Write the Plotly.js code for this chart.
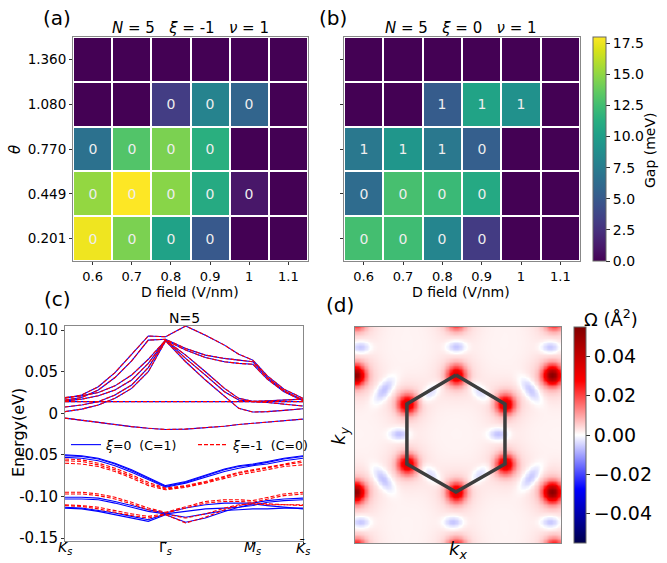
<!DOCTYPE html>
<html>
<head>
<meta charset="utf-8">
<script src="https://cdn.plot.ly/plotly-3.0.1.min.js"></script>
<style>html,body{margin:0;padding:0;background:#fff}#chart{width:667px;height:563px}</style>
</head>
<body>
<div id="chart"></div>
<script>
// ---------- (a), (b): gap maps ----------
const dField = [0.6, 0.7, 0.8, 0.9, 1.0, 1.1];
const dFieldLabels = ["0.6", "0.7", "0.8", "0.9", "1", "1.1"];
const thetaLabels = ["0.201", "0.449", "0.770", "1.080", "1.360"];
const thetaIdx = [0, 1, 2, 3, 4];
// rows bottom -> top (theta 0.201 ... 1.360), columns D = 0.6 ... 1.1  (meV)
const gapA = [
  [17.6, 14.4, 10.3, 5.0, 0, 0],
  [15.1, 18.0, 14.8, 11.0, 1.1, 0],
  [6.7, 13.1, 14.4, 11.4, 0, 0],
  [0, 0, 3.2, 8.0, 5.8, 0],
  [0, 0, 0, 0, 0, 0]
];
const chernA = [
  ["0", "0", "0", "0", "", ""],
  ["0", "0", "0", "0", "0", ""],
  ["0", "0", "0", "0", "", ""],
  ["", "", "0", "0", "0", ""],
  ["", "", "", "", "", ""]
];
const gapB = [
  [12.6, 12.4, 8.1, 3.1, 0, 0],
  [6.3, 12.7, 12.2, 10.9, 0, 0],
  [7.2, 9.4, 7.2, 5.4, 0, 0],
  [0, 0, 5.2, 10.4, 9.0, 0],
  [0, 0, 0, 0, 0, 0]
];
const chernB = [
  ["0", "0", "0", "0", "", ""],
  ["0", "0", "0", "0", "", ""],
  ["1", "1", "1", "0", "", ""],
  ["", "", "1", "1", "1", ""],
  ["", "", "", "", "", ""]
];
const gapTicks = [0, 2.5, 5, 7.5, 10, 12.5, 15, 17.5];

// ---------- (c): band structure ----------
const kPath = [0, 0.07, 0.14, 0.21, 0.28, 0.35, 0.4226, 0.507, 0.59, 0.67, 0.73, 0.789, 0.85, 0.92, 1.0];
const kTickVals = [0, 0.4226, 0.789, 1.0];
const kTickText = ["<i>K</i><sub><i>s</i></sub>", "Γ<sub><i>s</i></sub>", "<i>M</i><sub><i>s</i></sub>", "<i>K\u0304</i><sub><i>s</i></sub>"];
const eTickVals = [0.10, 0.05, 0, -0.05, -0.10, -0.15];
const eTickText = ["0.10", "0.05", "0", "-0.05", "-0.10", "-0.15"];
// conduction bands (both valleys overlap)
const cb1 = [-0.0058, -0.0085, -0.011, -0.0135, -0.016, -0.018, -0.0195, -0.019, -0.0175, -0.0155, -0.0135, -0.012, -0.010, -0.0085, -0.007];
const cb2 = [0.0140, 0.0140, 0.0140, 0.0140, 0.0140, 0.0140, 0.0140, 0.0140, 0.0140, 0.0138, 0.0137, 0.0136, 0.0137, 0.0138, 0.0140];
const cb3 = [0.002, 0.005, 0.010, 0.018, 0.030, 0.050, 0.087, 0.062, 0.040, 0.020, 0.006, 0.0015, 0.002, 0.0035, 0.0055];
const cb4 = [0.0075, 0.010, 0.014, 0.022, 0.034, 0.055, 0.088, 0.066, 0.046, 0.026, 0.016, 0.014, 0.013, 0.011, 0.0087];
const cb5 = [0.015, 0.017, 0.021, 0.028, 0.040, 0.060, 0.088, 0.076, 0.067, 0.062, 0.060, 0.059, 0.041, 0.026, 0.015];
const cb6 = [0.016, 0.019, 0.028, 0.043, 0.063, 0.088, 0.089, 0.078, 0.070, 0.066, 0.064, 0.062, 0.043, 0.027, 0.016];
const cb7 = [0.018, 0.022, 0.032, 0.049, 0.071, 0.093, 0.092, 0.105, 0.094, 0.082, 0.071, 0.064, 0.045, 0.029, 0.018];
const cb8 = [0.019, 0.021, 0.025, 0.033, 0.046, 0.065, 0.088, 0.070, 0.050, 0.030, 0.018, 0.0145, 0.015, 0.016, 0.017];
// valence bands, xi = 0
const vb1 = [-0.050, -0.051, -0.054, -0.060, -0.068, -0.077, -0.087, -0.082, -0.074, -0.067, -0.063, -0.061, -0.058, -0.054, -0.051];
const vb2 = [-0.051, -0.052, -0.055, -0.061, -0.069, -0.078, -0.088, -0.083, -0.075, -0.068, -0.064, -0.062, -0.059, -0.055, -0.052];
const vb3 = [-0.053, -0.054, -0.057, -0.063, -0.071, -0.080, -0.089, -0.084, -0.077, -0.070, -0.066, -0.063, -0.061, -0.057, -0.054];
const vb4 = [-0.101, -0.101, -0.102, -0.106, -0.111, -0.116, -0.120, -0.114, -0.110, -0.108, -0.108, -0.108, -0.105, -0.103, -0.102];
const vb5 = [-0.103, -0.103, -0.104, -0.108, -0.113, -0.118, -0.121, -0.118, -0.115, -0.114, -0.113, -0.111, -0.107, -0.105, -0.104];
const vb6 = [-0.113, -0.114, -0.117, -0.120, -0.124, -0.128, -0.121, -0.125, -0.121, -0.117, -0.116, -0.115, -0.115, -0.114, -0.114];
const vb7 = [-0.114, -0.115, -0.118, -0.122, -0.126, -0.130, -0.122, -0.131, -0.126, -0.118, -0.113, -0.109, -0.111, -0.113, -0.115];
// valence bands, xi = -1
const vr1 = [-0.055, -0.056, -0.060, -0.066, -0.074, -0.083, -0.090, -0.087, -0.082, -0.076, -0.071, -0.068, -0.065, -0.061, -0.057];
const vr2 = [-0.057, -0.058, -0.062, -0.068, -0.076, -0.085, -0.091, -0.088, -0.083, -0.077, -0.072, -0.069, -0.066, -0.062, -0.059];
const vr3 = [-0.060, -0.061, -0.064, -0.070, -0.078, -0.087, -0.092, -0.089, -0.084, -0.078, -0.074, -0.071, -0.068, -0.064, -0.062];
const vr4 = [-0.095, -0.095, -0.097, -0.101, -0.107, -0.114, -0.119, -0.112, -0.106, -0.104, -0.104, -0.105, -0.101, -0.097, -0.095];
const vr5 = [-0.097, -0.097, -0.099, -0.103, -0.109, -0.116, -0.120, -0.114, -0.108, -0.106, -0.106, -0.107, -0.103, -0.099, -0.097];
const vr6 = [-0.110, -0.111, -0.113, -0.117, -0.121, -0.124, -0.121, -0.126, -0.121, -0.114, -0.110, -0.109, -0.110, -0.110, -0.110];
const vr7 = [-0.111, -0.112, -0.115, -0.119, -0.123, -0.126, -0.122, -0.132, -0.125, -0.116, -0.111, -0.108, -0.109, -0.110, -0.111];
const condBands = [cb1, cb2, cb3, cb4, cb5, cb6, cb7, cb8];
const bandsXi0 = condBands.concat([vb1, vb2, vb3, vb4, vb5, vb6, vb7]);
const bandsXim1 = condBands.concat([vr1, vr2, vr3, vr4, vr5, vr6, vr7]);

// ---------- (d): Berry curvature map ----------
// hot spots (k-space units, hexagon centre = 0)
const redX = [0, 0, 0.476, 0.476, -0.476, -0.476, -0.98, 0.932, -0.98, 0.932, 0, 0, -0.97, 0.95, -0.97, 0.95];
const redY = [0.546, -0.537, 0.278, -0.278, 0.278, -0.278, 0.546, 0.546, -0.537, -0.537, 1.07, -1.07, 1.07, 1.07, -1.07, -1.07];
const redAmp = [0.032, 0.032, 0.032, 0.032, 0.032, 0.032, 0.046, 0.046, 0.046, 0.046, 0.033, 0.033, 0.035, 0.035, 0.035, 0.035];
const blueX = [-0.932, 0, 0.913, -0.70, 0.72, -0.553, 0.41, -0.71, 0.72, -0.932, -0.03, 0.913, -0.25, 0.23, -0.25, 0.23];
const blueY = [0.806, 0.81, 0.806, 0.41, 0.41, 0, 0, -0.417, -0.40, -0.815, -0.815, -0.815, 0.39, 0.39, -0.37, -0.37];
const blueAmp = [-0.009, -0.009, -0.009, -0.009, -0.009, -0.009, -0.009, -0.009, -0.009, -0.009, -0.009, -0.009, -0.006, -0.006, -0.006, -0.006];
const blueAngle = [0, 0, 0, 50, -50, 0, 0, -50, 50, 0, 0, 0, 40, -40, -40, 40];
const blueMajor = [0.065, 0.065, 0.065, 0.095, 0.095, 0.065, 0.065, 0.095, 0.095, 0.065, 0.065, 0.065, 0.075, 0.075, 0.075, 0.075];
const blueMinor = [0.04, 0.04, 0.04, 0.045, 0.045, 0.04, 0.04, 0.045, 0.045, 0.04, 0.04, 0.04, 0.04, 0.04, 0.04, 0.04];
const omegaBackground = 0.0012;
const hexX = [0, 0.476, 0.476, 0, -0.476, -0.476, 0];
const hexY = [0.546, 0.278, -0.278, -0.537, -0.278, 0.278, 0.546];
const omegaTicks = [-0.04, -0.02, 0, 0.02, 0.04];

// grid table for the heatmap, built from the spot lists above
const gx = [], gy = [];
for (let i = 0; i <= 160; i++) gx.push(-0.98 + i * 0.0125);
for (let j = 0; j <= 160; j++) gy.push(-1.01 + j * 0.0125);
const sCore = 0.062, sHalo = 0.15;
const omegaZ = gy.map(y => gx.map(x => {
  let v = omegaBackground;
  for (let n = 0; n < redX.length; n++) {
    const r2 = (x - redX[n]) ** 2 + (y - redY[n]) ** 2;
    v += redAmp[n] * Math.exp(-r2 / (2 * sCore * sCore)) + 0.12 * redAmp[n] * Math.exp(-r2 / (2 * sHalo * sHalo));
  }
  for (let n = 0; n < blueX.length; n++) {
    const a = blueAngle[n] * Math.PI / 180;
    const dx = x - blueX[n], dy = y - blueY[n];
    const u = dx * Math.cos(a) + dy * Math.sin(a);
    const w = -dx * Math.sin(a) + dy * Math.cos(a);
    v += blueAmp[n] * Math.exp(-(u * u) / (2 * blueMajor[n] ** 2) - (w * w) / (2 * blueMinor[n] ** 2));
  }
  return v;
}));

const seismic = [[0, 'rgb(0,0,77)'], [0.25, 'rgb(0,0,255)'], [0.5, 'rgb(255,255,255)'], [0.75, 'rgb(255,0,0)'], [1, 'rgb(128,0,0)']];

const W = 667, H = 563;
const px = v => v / W;
const py = v => 1 - v / H;
const FONT = 'DejaVu Sans';

const traces = [];
traces.push({
  type: 'heatmap', x: dField, y: thetaIdx, z: gapA, text: chernA, texttemplate: '%{text}',
  textfont: {family: FONT, size: 14, color: '#eeeeee'},
  colorscale: 'Viridis', zmin: 0, zmax: 18, showscale: false, xgap: 2, ygap: 2,
  xaxis: 'x', yaxis: 'y', hoverinfo: 'skip'
});
traces.push({
  type: 'heatmap', x: dField, y: thetaIdx, z: gapB, text: chernB, texttemplate: '%{text}',
  textfont: {family: FONT, size: 14, color: '#eeeeee'},
  colorscale: 'Viridis', zmin: 0, zmax: 18, xgap: 2, ygap: 2,
  xaxis: 'x2', yaxis: 'y2', hoverinfo: 'skip',
  colorbar: {
    x: px(593), xanchor: 'left', y: py(261), yanchor: 'bottom', len: 224 / H, lenmode: 'fraction',
    thickness: 13, thicknessmode: 'pixels', xpad: 0, ypad: 0, outlinewidth: 1, outlinecolor: '#666',
    ticks: 'outside', ticklen: 4, tickcolor: '#333', tickvals: gapTicks, tickformat: '.1f',
    tickfont: {family: FONT, size: 14, color: '#000'}
  }
});
bandsXi0.forEach((b, i) => traces.push({
  type: 'scatter', mode: 'lines', x: kPath, y: b, xaxis: 'x3', yaxis: 'y3',
  line: {color: '#0000ff', width: 1.1}, name: '<i>ξ</i>=0\u00a0\u00a0(C=1)', legendgroup: 'xi0', showlegend: i === 0,
  hoverinfo: 'skip'
}));
bandsXim1.forEach((b, i) => traces.push({
  type: 'scatter', mode: 'lines', x: kPath, y: b, xaxis: 'x3', yaxis: 'y3',
  line: {color: '#ff0000', width: 1.1, dash: '4px,2px'}, name: '<i>ξ</i>=-1\u00a0\u00a0(C=0)', legendgroup: 'xim1', showlegend: i === 0,
  hoverinfo: 'skip'
}));
traces.push({
  type: 'heatmap', x: gx, y: gy, z: omegaZ, colorscale: seismic, zmin: -0.055, zmax: 0.055,
  zsmooth: 'best', xaxis: 'x4', yaxis: 'y4', hoverinfo: 'skip',
  colorbar: {
    x: px(574), xanchor: 'left', y: py(543), yanchor: 'bottom', len: 216 / H, lenmode: 'fraction',
    thickness: 12, thicknessmode: 'pixels', xpad: 0, ypad: 0, outlinewidth: 1, outlinecolor: '#666',
    ticks: 'outside', ticklen: 4, tickcolor: '#333', tickvals: omegaTicks, tickformat: '.2f',
    tickfont: {family: FONT, size: 19, color: '#000'}
  }
});
traces.push({
  type: 'scatter', mode: 'lines', x: hexX, y: hexY, xaxis: 'x4', yaxis: 'y4',
  line: {color: '#3d3d3d', width: 3.5}, showlegend: false, hoverinfo: 'skip'
});

const frame = {showline: true, mirror: true, linecolor: '#888', linewidth: 1, showgrid: false, zeroline: false};
const tickStyle = {ticks: 'outside', ticklen: 3, tickcolor: '#333', tickwidth: 1};

const annots = [
  {text: '(a)', x: px(57), y: py(18), font: {size: 20}},
  {text: '(b)', x: px(333), y: py(18), font: {size: 20}},
  {text: '(c)', x: px(57), y: py(299), font: {size: 20}},
  {text: '(d)', x: px(340), y: py(305), font: {size: 20}},
  {text: '<i>N</i> = 5\u00a0\u00a0\u00a0<i>ξ</i> = -1\u00a0\u00a0\u00a0<i>ν</i> = 1', x: px(190), y: py(28), font: {size: 15}},
  {text: '<i>N</i> = 5\u00a0\u00a0\u00a0<i>ξ</i> = 0\u00a0\u00a0\u00a0<i>ν</i> = 1', x: px(461), y: py(28), font: {size: 15}},
  {text: 'D field (V/nm)', x: px(190), y: py(292), font: {size: 14}},
  {text: 'D field (V/nm)', x: px(461), y: py(292), font: {size: 14}},
  {text: '<i>θ</i>', x: px(15), y: py(150), textangle: -90, font: {size: 15}},
  {text: 'Gap (meV)', x: px(650), y: py(150), textangle: -90, font: {size: 14}},
  {text: 'N=5', x: px(184), y: py(318), font: {size: 14}},
  {text: 'Energy(eV)', x: px(18), y: py(433), textangle: -90, font: {size: 16}},
  {text: '<i>k</i><sub><i>x</i></sub>', x: px(458), y: py(550), font: {size: 18}},
  {text: '<i>k</i><sub><i>y</i></sub>', x: px(340), y: py(436), textangle: -90, font: {size: 18}},
  {text: 'Ω (Å<sup>2</sup>)', x: px(611), y: py(318), font: {size: 18}}
].map(a => Object.assign({xref: 'paper', yref: 'paper', showarrow: false, xanchor: 'center', yanchor: 'middle'}, a,
  {font: Object.assign({family: FONT, color: '#000'}, a.font)}));
// k-path labels of panel (c), placed on the x3 data axis
kTickVals.forEach((k, i) => annots.push({
  text: kTickText[i], xref: 'x3', yref: 'paper', x: k, y: py(548), showarrow: false,
  xanchor: 'center', yanchor: 'middle', font: {family: FONT, size: 14, color: '#000'}
}));

const layout = {
  width: W, height: H, margin: {l: 0, r: 0, t: 0, b: 0},
  paper_bgcolor: '#fff', plot_bgcolor: '#fff',
  font: {family: FONT, color: '#000'},
  showlegend: true,
  legend: {x: px(66), y: py(445), xanchor: 'left', yanchor: 'middle', orientation: 'h',
    bgcolor: 'rgba(0,0,0,0)', font: {family: FONT, size: 12.5}, entrywidth: 82, entrywidthmode: 'pixels'},
  xaxis: Object.assign({}, frame, tickStyle, {domain: [px(73), px(308)], range: [0.55, 1.15],
    tickvals: dField, ticktext: dFieldLabels, tickfont: {size: 13}, anchor: 'y'}),
  yaxis: Object.assign({}, frame, tickStyle, {domain: [py(261), py(37)], range: [-0.5, 4.5],
    tickvals: thetaIdx, ticktext: thetaLabels, tickfont: {size: 13.5}, anchor: 'x'}),
  xaxis2: Object.assign({}, frame, tickStyle, {domain: [px(344), px(580)], range: [0.55, 1.15],
    tickvals: dField, ticktext: dFieldLabels, tickfont: {size: 13}, anchor: 'y2'}),
  yaxis2: Object.assign({}, frame, tickStyle, {domain: [py(261), py(37)], range: [-0.5, 4.5],
    tickvals: thetaIdx, showticklabels: false, anchor: 'x2'}),
  xaxis3: Object.assign({}, frame, tickStyle, {domain: [px(65), px(303)], range: [0, 1], ticklen: 2,
    tickvals: kTickVals, showticklabels: false, anchor: 'y3'}),
  yaxis3: Object.assign({}, frame, tickStyle, {domain: [py(541), py(326)], range: [-0.1536, 0.105],
    tickvals: eTickVals, ticktext: eTickText, tickfont: {size: 15}, anchor: 'x3'}),
  xaxis4: Object.assign({}, frame, {domain: [px(355), px(561)], range: [-0.98, 1.02],
    showticklabels: false, ticks: '', anchor: 'y4'}),
  yaxis4: Object.assign({}, frame, {domain: [py(543), py(327)], range: [-1.01, 0.99],
    showticklabels: false, ticks: '', anchor: 'x4'}),
  annotations: annots
};

Plotly.newPlot('chart', traces, layout, {displayModeBar: false, staticPlot: true});
</script>
</body>
</html>
